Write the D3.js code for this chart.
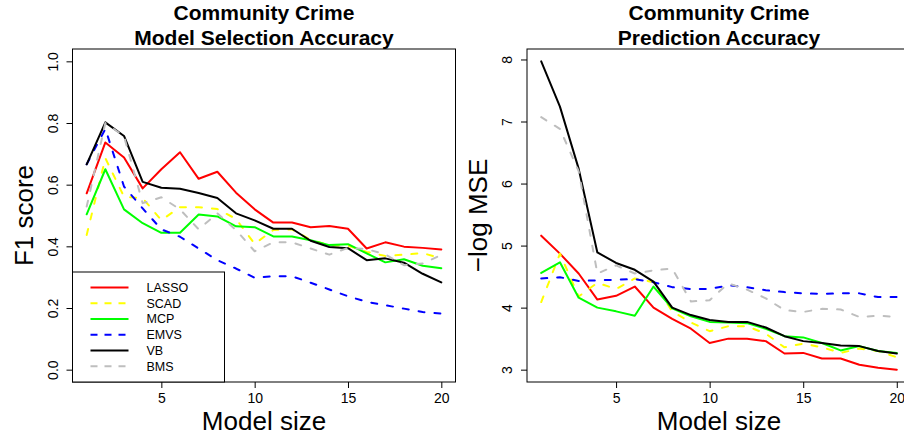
<!DOCTYPE html>
<html><head><meta charset="utf-8">
<script src="https://cdn.jsdelivr.net/npm/d3@7"></script>
<style>
html,body{margin:0;padding:0;background:#fff;}
svg{display:block;font-family:"Liberation Sans",Arial,Helvetica,sans-serif;}
</style></head>
<body>
<svg id="chart" width="904" height="436"></svg>
<script>
const modelSize = [1,2,3,4,5,6,7,8,9,10,11,12,13,14,15,16,17,18,19,20];
const methods = ["LASSO","SCAD","MCP","EMVS","VB","BMS"];
const colors = ["#ff0000","#ffff00","#00ff00","#0000ff","#000000","#bebebe"];
const dashed = [false,true,false,true,false,true];

const f1LASSO = [0.572,0.737,0.688,0.588,0.650,0.705,0.619,0.642,0.574,0.520,0.477,0.477,0.462,0.466,0.457,0.393,0.413,0.399,0.395,0.390];
const f1SCAD  = [0.437,0.686,0.561,0.556,0.485,0.527,0.527,0.521,0.489,0.408,0.453,0.455,0.421,0.404,0.402,0.382,0.369,0.373,0.378,0.361];
const f1MCP   = [0.504,0.650,0.520,0.475,0.444,0.444,0.503,0.497,0.465,0.462,0.432,0.432,0.420,0.404,0.407,0.377,0.348,0.358,0.337,0.329];
const f1EMVS  = [0.666,0.781,0.594,0.523,0.455,0.431,0.393,0.355,0.328,0.298,0.303,0.303,0.282,0.260,0.238,0.220,0.209,0.198,0.187,0.182];
const f1VB    = [0.666,0.802,0.758,0.609,0.590,0.587,0.573,0.557,0.507,0.484,0.457,0.457,0.418,0.398,0.394,0.355,0.361,0.347,0.311,0.283];
const f1BMS   = [0.529,0.800,0.757,0.540,0.559,0.520,0.455,0.507,0.453,0.384,0.413,0.413,0.393,0.373,0.395,0.391,0.374,0.339,0.344,0.372];

const mseLASSO = [5.16,4.87,4.55,4.13,4.19,4.34,4.00,3.82,3.66,3.43,3.50,3.50,3.46,3.26,3.27,3.18,3.18,3.08,3.03,3.00];
const mseSCAD  = [4.09,4.87,4.18,4.40,4.30,4.47,4.41,3.94,3.76,3.62,3.70,3.70,3.58,3.36,3.42,3.36,3.27,3.34,3.30,3.20];
const mseMCP   = [4.56,4.73,4.16,4.00,3.94,3.87,4.34,3.99,3.86,3.77,3.76,3.75,3.66,3.54,3.52,3.43,3.31,3.38,3.30,3.27];
const mseEMVS  = [4.47,4.49,4.43,4.44,4.45,4.46,4.41,4.33,4.30,4.30,4.36,4.33,4.28,4.25,4.23,4.22,4.23,4.23,4.17,4.17];
const mseVB    = [7.97,7.24,6.24,4.89,4.72,4.61,4.42,4.00,3.88,3.80,3.77,3.77,3.68,3.54,3.46,3.43,3.39,3.38,3.30,3.26];
const mseBMS   = [7.07,6.88,6.20,4.55,4.68,4.55,4.60,4.63,4.10,4.12,4.39,4.29,4.15,3.96,3.93,3.98,3.97,3.85,3.87,3.85];

const xTicks = [5,10,15,20];
const f1Ticks = [0.0,0.2,0.4,0.6,0.8,1.0];
const mseTicks = [3,4,5,6,7,8];

const f1Series = [f1LASSO,f1SCAD,f1MCP,f1EMVS,f1VB,f1BMS];
const mseSeries = [mseLASSO,mseSCAD,mseMCP,mseEMVS,mseVB,mseBMS];

const svg = d3.select("#chart");
const FONT = '"Liberation Sans",Arial,Helvetica,sans-serif';

function pad(ext){ const r = ext[1]-ext[0]; return [ext[0]-0.04*r, ext[1]+0.04*r]; }

function panel(opt){
  const {left, right, top, bottom, series, yDomain, yTicks, yFmt, title, ylab, legend} = opt;
  const g = svg.append("g");
  const x = d3.scaleLinear().domain(pad(d3.extent(modelSize))).range([left, right]);
  const y = d3.scaleLinear().domain(yDomain).range([bottom, top]);

  // lines
  const line = d3.line().x((d,i)=>x(modelSize[i])).y(d=>y(d));
  series.forEach((s,k)=>{
    g.append("path").attr("d", line(s)).attr("fill","none")
      .attr("stroke", colors[k]).attr("stroke-width",2)
      .attr("stroke-linejoin","round").attr("stroke-linecap","round")
      .attr("stroke-dasharray", dashed[k] ? "6,10" : null);
  });

  // box
  g.append("rect").attr("x",left).attr("y",top).attr("width",right-left).attr("height",bottom-top)
    .attr("fill","none").attr("stroke","#000").attr("stroke-width",1);

  // x axis
  const xa = d3.axisBottom(x).tickValues(xTicks).tickSize(6).tickPadding(5).tickFormat(d3.format("d"));
  const gx = g.append("g").attr("transform",`translate(0,${bottom})`).call(xa);
  gx.select(".domain").remove();
  gx.selectAll("text").attr("font-size",14).attr("font-family",FONT).attr("fill","#000");
  gx.selectAll("line").attr("stroke","#000");

  // y axis
  const ya = d3.axisLeft(y).tickValues(yTicks).tickSize(6).tickFormat(yFmt);
  const gy = g.append("g").attr("transform",`translate(${left},0)`).call(ya);
  gy.select(".domain").remove();
  gy.selectAll("line").attr("stroke","#000");
  gy.selectAll("text").attr("font-size",14).attr("font-family",FONT).attr("fill","#000")
    .attr("x",null).attr("dy",null).attr("text-anchor","middle")
    .attr("transform","translate(-15,0) rotate(-90)");

  // titles
  const cx = (left+right)/2;
  g.append("text").attr("x",cx).attr("y",20).attr("text-anchor","middle")
    .attr("font-size",21).attr("font-weight","bold").attr("font-family",FONT).text(title[0]);
  g.append("text").attr("x",cx).attr("y",45).attr("text-anchor","middle")
    .attr("font-size",21).attr("font-weight","bold").attr("font-family",FONT).text(title[1]);

  // axis labels
  g.append("text").attr("x",cx).attr("y",430).attr("text-anchor","middle")
    .attr("font-size",26).attr("font-family",FONT).text("Model size");
  g.append("text").attr("transform",`translate(${left-40},${(top+bottom)/2}) rotate(-90)`)
    .attr("text-anchor","middle").attr("font-size",26).attr("font-family",FONT).text(ylab);

  if(legend){
    const lw = 152, lh = 110;
    const lg = g.append("g");
    lg.append("rect").attr("x",left).attr("y",bottom-lh).attr("width",lw).attr("height",lh)
      .attr("fill","#fff").attr("stroke","#000").attr("stroke-width",1);
    methods.forEach((m,k)=>{
      const yy = bottom - lh + 15.5 + k*15.75;
      lg.append("line").attr("x1",left+18).attr("x2",left+56).attr("y1",yy).attr("y2",yy)
        .attr("stroke",colors[k]).attr("stroke-width",2)
        .attr("stroke-dasharray", dashed[k] ? "7,7" : null);
      lg.append("text").attr("x",left+74).attr("y",yy).attr("dy","0.35em")
        .attr("font-size",12.5).attr("font-family",FONT).text(m);
    });
  }
}

panel({left:72.5, right:455.5, top:49, bottom:382, series:f1Series,
  yDomain:[-0.04,1.04], yTicks:f1Ticks, yFmt:d3.format(".1f"),
  title:["Community Crime","Model Selection Accuracy"], ylab:"F1 score", legend:true});

panel({left:527, right:911, top:49, bottom:382, series:mseSeries,
  yDomain:pad(d3.extent(mseSeries.flat())), yTicks:mseTicks, yFmt:d3.format("d"),
  title:["Community Crime","Prediction Accuracy"], ylab:"\u2212log MSE", legend:false});
</script>
</body></html>
